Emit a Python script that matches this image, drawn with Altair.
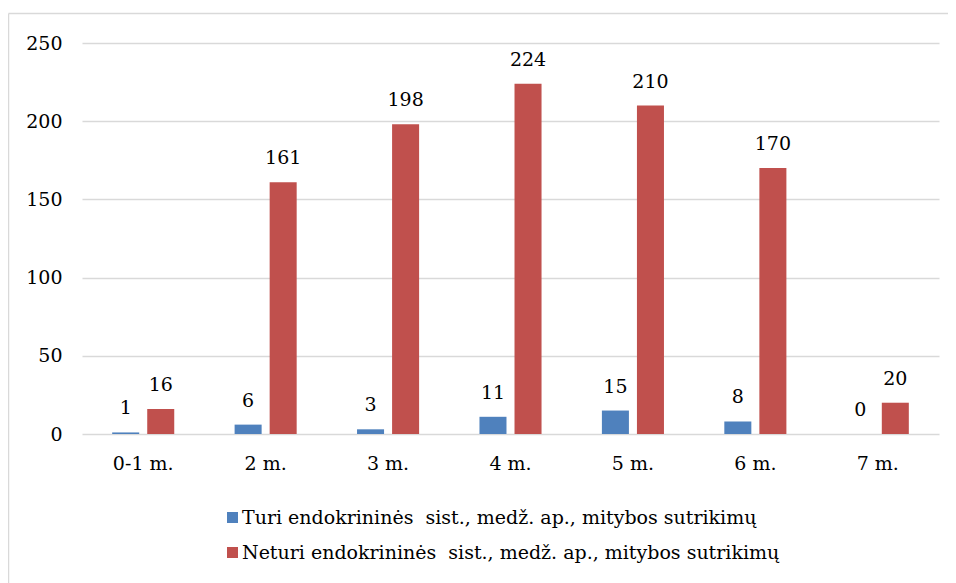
import altair as alt
import pandas as pd

categories = ["0-1 m.", "2 m.", "3 m.", "4 m.", "5 m.", "6 m.", "7 m."]
series = [
    "Turi endokrininės\u00a0 sist., medž. ap., mitybos sutrikimų",
    "Neturi endokrininės\u00a0 sist., medž. ap., mitybos sutrikimų",
]
turi = [1, 6, 3, 11, 15, 8, 0]
neturi = [16, 161, 198, 224, 210, 170, 20]
colors = ["#4F81BD", "#C0504D"]

rows = []
for c, a, b in zip(categories, turi, neturi):
    rows.append({"cat": c, "series": series[0], "value": a})
    rows.append({"cat": c, "series": series[1], "value": b})
df = pd.DataFrame(rows)

FONT = "DejaVu Serif"
FS = 19

x_enc = alt.X("cat:N", sort=categories, title=None,
              scale=alt.Scale(paddingInner=0.493, paddingOuter=0.2465),
              axis=alt.Axis(labelAngle=0, labelPadding=20, ticks=False, domain=False,
                            labelFont=FONT, labelFontSize=FS, labelColor="#000000"))
xoff = alt.XOffset("series:N", sort=series,
                   scale=alt.Scale(paddingInner=0.229, paddingOuter=0))
y_enc = alt.Y("value:Q", title=None,
              scale=alt.Scale(domain=[0, 250], nice=False),
              axis=alt.Axis(values=[0, 50, 100, 150, 200, 250], ticks=False, domain=False,
                            labelPadding=20, labelFont=FONT, labelFontSize=FS,
                            labelColor="#000000", gridColor="#D9D9D9", gridWidth=1.3))

base = alt.Chart(df)

bars = base.mark_bar().encode(
    x=x_enc, xOffset=xoff, y=y_enc,
    color=alt.Color("series:N", sort=series,
                    scale=alt.Scale(domain=series, range=colors),
                    legend=alt.Legend(title=None, orient="none", legendX=141, legendY=465,
                                      direction="vertical", symbolType="square",
                                      symbolSize=121, symbolStrokeWidth=0,
                                      labelFont=FONT, labelFontSize=FS, labelColor="#000000",
                                      labelOffset=0, rowPadding=15, padding=0,
                                      labelLimit=800)),
)

labels = base.mark_text(baseline="alphabetic", dy=-18, font=FONT, fontSize=FS, color="#000000").encode(
    x=alt.X("cat:N", sort=categories), xOffset=xoff, y="value:Q", text="value:Q",
)

border_top = alt.Chart(pd.DataFrame({"a": [0]})).mark_rule(color="#D9D9D9", strokeWidth=1.5).encode(
    x=alt.value(-73.5), x2=alt.value(875), y=alt.value(-29.5)
)
border_left = alt.Chart(pd.DataFrame({"a": [0]})).mark_rule(color="#D9D9D9", strokeWidth=1.5).encode(
    x=alt.value(-73.5), y=alt.value(-29.5), y2=alt.value(560)
)

chart = alt.layer(bars, labels, border_top, border_left).properties(
    width=857, height=391,
    autosize=alt.AutoSizeParams(type="none"),
    padding={"left": 74, "top": 35, "right": 9, "bottom": 149},
).configure(font=FONT).configure_view(stroke=None).configure_axis(grid=True).configure_axisX(grid=False)

chart.save("out.html", embed_options={"renderer": "svg", "actions": False})
